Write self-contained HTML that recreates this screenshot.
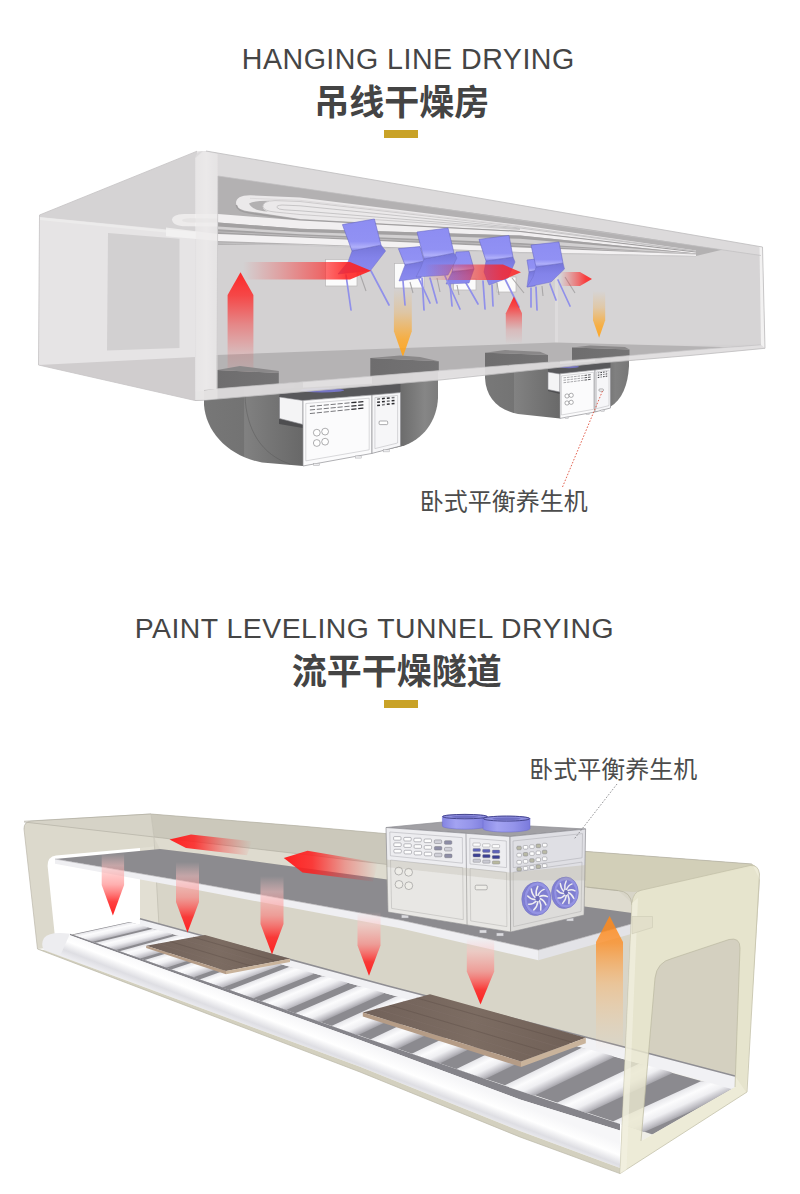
<!DOCTYPE html>
<html lang="zh"><head><meta charset="utf-8"><title>Drying rooms</title>
<style>
html,body{margin:0;padding:0;background:#fff}
body{width:800px;height:1194px;position:relative;overflow:hidden;font-family:"Liberation Sans",sans-serif}
.t{position:absolute;margin:0;color:transparent;white-space:nowrap;font-weight:normal;line-height:1;z-index:2}
</style></head><body>
<svg width="800" height="1194" viewBox="0 0 800 1194" style="position:absolute;left:0;top:0">
<defs>
<linearGradient id="g1" gradientUnits="userSpaceOnUse" x1="195" y1="0" x2="218" y2="0"><stop offset="0" stop-color="#e2e0e1"/><stop offset="0.5" stop-color="#eae8e9"/><stop offset="1" stop-color="#dedcdd"/></linearGradient>
<linearGradient id="g2" gradientUnits="userSpaceOnUse" x1="0" y1="272.3" x2="0" y2="388"><stop offset="0" stop-color="#ff2020" stop-opacity="0.95"/><stop offset="0.2" stop-color="#ff2020" stop-opacity="0.7789999999999999"/><stop offset="0.45" stop-color="#ff2020" stop-opacity="0.42"/><stop offset="0.7" stop-color="#ff2020" stop-opacity="0.13"/><stop offset="1" stop-color="#ff2020" stop-opacity="0"/></linearGradient>
<linearGradient id="g3" gradientUnits="userSpaceOnUse" x1="0" y1="288" x2="0" y2="356.9"><stop offset="0" stop-color="#ffa51e" stop-opacity="0"/><stop offset="0.35" stop-color="#ffa51e" stop-opacity="0.25"/><stop offset="0.75" stop-color="#ffa51e" stop-opacity="0.8"/><stop offset="1" stop-color="#ffa51e" stop-opacity="0.95"/></linearGradient>
<linearGradient id="g4" gradientUnits="userSpaceOnUse" x1="0" y1="291" x2="0" y2="337.8"><stop offset="0" stop-color="#ffa51e" stop-opacity="0"/><stop offset="0.35" stop-color="#ffa51e" stop-opacity="0.25"/><stop offset="0.75" stop-color="#ffa51e" stop-opacity="0.8"/><stop offset="1" stop-color="#ffa51e" stop-opacity="0.95"/></linearGradient>
<linearGradient id="g5" gradientUnits="userSpaceOnUse" x1="0" y1="261" x2="0" y2="281"><stop offset="0" stop-color="#7575d8"/><stop offset="0.45" stop-color="#8383ea"/><stop offset="1" stop-color="#8a8aee"/></linearGradient>
<linearGradient id="g6" gradientUnits="userSpaceOnUse" x1="0" y1="246.6" x2="0" y2="265"><stop offset="0" stop-color="#8d8df2"/><stop offset="0.7" stop-color="#9191f4"/><stop offset="0.88" stop-color="#b0b0fa"/><stop offset="1" stop-color="#8080e6"/></linearGradient>
<linearGradient id="g7" gradientUnits="userSpaceOnUse" x1="0" y1="269" x2="0" y2="284"><stop offset="0" stop-color="#7575d8"/><stop offset="0.45" stop-color="#8383ea"/><stop offset="1" stop-color="#8a8aee"/></linearGradient>
<linearGradient id="g8" gradientUnits="userSpaceOnUse" x1="0" y1="251.4" x2="0" y2="272"><stop offset="0" stop-color="#8d8df2"/><stop offset="0.7" stop-color="#9191f4"/><stop offset="0.88" stop-color="#b0b0fa"/><stop offset="1" stop-color="#8080e6"/></linearGradient>
<linearGradient id="g9" gradientUnits="userSpaceOnUse" x1="0" y1="270" x2="0" y2="287"><stop offset="0" stop-color="#7575d8"/><stop offset="0.45" stop-color="#8383ea"/><stop offset="1" stop-color="#8a8aee"/></linearGradient>
<linearGradient id="g10" gradientUnits="userSpaceOnUse" x1="0" y1="259" x2="0" y2="272"><stop offset="0" stop-color="#8d8df2"/><stop offset="0.7" stop-color="#9191f4"/><stop offset="0.88" stop-color="#b0b0fa"/><stop offset="1" stop-color="#8080e6"/></linearGradient>
<linearGradient id="g11" gradientUnits="userSpaceOnUse" x1="0" y1="245" x2="0" y2="274"><stop offset="0" stop-color="#7575d8"/><stop offset="0.45" stop-color="#8383ea"/><stop offset="1" stop-color="#8a8aee"/></linearGradient>
<linearGradient id="g12" gradientUnits="userSpaceOnUse" x1="0" y1="219" x2="0" y2="251"><stop offset="0" stop-color="#8d8df2"/><stop offset="0.7" stop-color="#9191f4"/><stop offset="0.88" stop-color="#b0b0fa"/><stop offset="1" stop-color="#8080e6"/></linearGradient>
<linearGradient id="g13" gradientUnits="userSpaceOnUse" x1="0" y1="253" x2="0" y2="277"><stop offset="0" stop-color="#7575d8"/><stop offset="0.45" stop-color="#8383ea"/><stop offset="1" stop-color="#8a8aee"/></linearGradient>
<linearGradient id="g14" gradientUnits="userSpaceOnUse" x1="0" y1="228" x2="0" y2="259"><stop offset="0" stop-color="#8d8df2"/><stop offset="0.7" stop-color="#9191f4"/><stop offset="0.88" stop-color="#b0b0fa"/><stop offset="1" stop-color="#8080e6"/></linearGradient>
<linearGradient id="g15" gradientUnits="userSpaceOnUse" x1="0" y1="257" x2="0" y2="285"><stop offset="0" stop-color="#7575d8"/><stop offset="0.45" stop-color="#8383ea"/><stop offset="1" stop-color="#8a8aee"/></linearGradient>
<linearGradient id="g16" gradientUnits="userSpaceOnUse" x1="0" y1="235.4" x2="0" y2="261"><stop offset="0" stop-color="#8d8df2"/><stop offset="0.7" stop-color="#9191f4"/><stop offset="0.88" stop-color="#b0b0fa"/><stop offset="1" stop-color="#8080e6"/></linearGradient>
<linearGradient id="g17" gradientUnits="userSpaceOnUse" x1="0" y1="263" x2="0" y2="287"><stop offset="0" stop-color="#7575d8"/><stop offset="0.45" stop-color="#8383ea"/><stop offset="1" stop-color="#8a8aee"/></linearGradient>
<linearGradient id="g18" gradientUnits="userSpaceOnUse" x1="0" y1="242" x2="0" y2="267"><stop offset="0" stop-color="#8d8df2"/><stop offset="0.7" stop-color="#9191f4"/><stop offset="0.88" stop-color="#b0b0fa"/><stop offset="1" stop-color="#8080e6"/></linearGradient>
<linearGradient id="g19" gradientUnits="userSpaceOnUse" x1="243" y1="0" x2="371" y2="0"><stop offset="0" stop-color="#ff2020" stop-opacity="0"/><stop offset="0.3" stop-color="#ff2020" stop-opacity="0.28"/><stop offset="0.6" stop-color="#ff2020" stop-opacity="0.58"/><stop offset="0.8" stop-color="#ff2020" stop-opacity="0.8556"/><stop offset="1" stop-color="#ff2020" stop-opacity="0.93"/></linearGradient>
<linearGradient id="g20" gradientUnits="userSpaceOnUse" x1="425" y1="0" x2="521" y2="0"><stop offset="0" stop-color="#ff2020" stop-opacity="0"/><stop offset="0.3" stop-color="#ff2020" stop-opacity="0.28"/><stop offset="0.6" stop-color="#ff2020" stop-opacity="0.58"/><stop offset="0.8" stop-color="#ff2020" stop-opacity="0.782"/><stop offset="1" stop-color="#ff2020" stop-opacity="0.85"/></linearGradient>
<linearGradient id="g21" gradientUnits="userSpaceOnUse" x1="560" y1="0" x2="592" y2="0"><stop offset="0" stop-color="#ff2020" stop-opacity="0"/><stop offset="0.3" stop-color="#ff2020" stop-opacity="0.28"/><stop offset="0.6" stop-color="#ff2020" stop-opacity="0.58"/><stop offset="0.8" stop-color="#ff2020" stop-opacity="0.8280000000000001"/><stop offset="1" stop-color="#ff2020" stop-opacity="0.9"/></linearGradient>
<linearGradient id="g22" gradientUnits="userSpaceOnUse" x1="0" y1="296.6" x2="0" y2="344"><stop offset="0" stop-color="#ff2020" stop-opacity="0.95"/><stop offset="0.2" stop-color="#ff2020" stop-opacity="0.7789999999999999"/><stop offset="0.45" stop-color="#ff2020" stop-opacity="0.42"/><stop offset="0.7" stop-color="#ff2020" stop-opacity="0.13"/><stop offset="1" stop-color="#ff2020" stop-opacity="0"/></linearGradient>
<linearGradient id="g23" gradientUnits="userSpaceOnUse" x1="217" y1="0" x2="278.8" y2="0"><stop offset="0" stop-color="#6e6d6e"/><stop offset="1" stop-color="#747374"/></linearGradient>
<linearGradient id="g24" gradientUnits="userSpaceOnUse" x1="370.3" y1="0" x2="438.8" y2="0"><stop offset="0" stop-color="#6e6d6e"/><stop offset="1" stop-color="#747374"/></linearGradient>
<linearGradient id="g25" gradientUnits="userSpaceOnUse" x1="485" y1="0" x2="548" y2="0"><stop offset="0" stop-color="#6e6d6e"/><stop offset="1" stop-color="#747374"/></linearGradient>
<linearGradient id="g26" gradientUnits="userSpaceOnUse" x1="572" y1="0" x2="629.5" y2="0"><stop offset="0" stop-color="#6e6d6e"/><stop offset="1" stop-color="#747374"/></linearGradient>
<linearGradient id="g27" gradientUnits="userSpaceOnUse" x1="204" y1="0" x2="303" y2="0"><stop offset="0" stop-color="#777777"/><stop offset="0.4" stop-color="#737373"/><stop offset="0.41" stop-color="#818181"/><stop offset="0.7" stop-color="#747474"/><stop offset="1" stop-color="#686868"/></linearGradient>
<linearGradient id="g28" gradientUnits="userSpaceOnUse" x1="372" y1="0" x2="438" y2="0"><stop offset="0" stop-color="#5e5e5e"/><stop offset="0.45" stop-color="#6d6d6d"/><stop offset="0.8" stop-color="#868686"/><stop offset="1" stop-color="#7c7c7c"/></linearGradient>
<linearGradient id="g29" gradientUnits="userSpaceOnUse" x1="485" y1="0" x2="560" y2="0"><stop offset="0" stop-color="#787878"/><stop offset="0.38" stop-color="#747474"/><stop offset="0.39" stop-color="#828282"/><stop offset="0.7" stop-color="#757575"/><stop offset="1" stop-color="#696969"/></linearGradient>
<linearGradient id="g30" gradientUnits="userSpaceOnUse" x1="595" y1="0" x2="629" y2="0"><stop offset="0" stop-color="#606060"/><stop offset="0.6" stop-color="#808080"/><stop offset="1" stop-color="#777777"/></linearGradient>
<linearGradient id="g31" gradientUnits="userSpaceOnUse" x1="560" y1="0" x2="587" y2="0"><stop offset="0" stop-color="#d2cfb8" stop-opacity="0"/><stop offset="1" stop-color="#d2cfb8" stop-opacity="1"/></linearGradient>
<clipPath id="cvclip"><polygon points="0,880 735,880 735,1087 641,1141 620,1174 610,1186 0,1000"/></clipPath>
<linearGradient id="g32" gradientUnits="userSpaceOnUse" x1="101.7" y1="928.6" x2="103.9" y2="938.4"><stop offset="0" stop-color="#e6e6ea"/><stop offset="0.3" stop-color="#fcfcfd"/><stop offset="0.6" stop-color="#efeff2"/><stop offset="0.85" stop-color="#cfced4"/><stop offset="1" stop-color="#bbbac0"/></linearGradient>
<linearGradient id="g33" gradientUnits="userSpaceOnUse" x1="124.4" y1="935.8" x2="127.0" y2="946.4"><stop offset="0" stop-color="#e6e6ea"/><stop offset="0.3" stop-color="#fcfcfd"/><stop offset="0.6" stop-color="#efeff2"/><stop offset="0.85" stop-color="#cfced4"/><stop offset="1" stop-color="#bbbac0"/></linearGradient>
<linearGradient id="g34" gradientUnits="userSpaceOnUse" x1="148.4" y1="943.3" x2="151.5" y2="954.7"><stop offset="0" stop-color="#e6e6ea"/><stop offset="0.3" stop-color="#fcfcfd"/><stop offset="0.6" stop-color="#efeff2"/><stop offset="0.85" stop-color="#cfced4"/><stop offset="1" stop-color="#bbbac0"/></linearGradient>
<linearGradient id="g35" gradientUnits="userSpaceOnUse" x1="173.8" y1="951.3" x2="177.5" y2="963.6"><stop offset="0" stop-color="#e6e6ea"/><stop offset="0.3" stop-color="#fcfcfd"/><stop offset="0.6" stop-color="#efeff2"/><stop offset="0.85" stop-color="#cfced4"/><stop offset="1" stop-color="#bbbac0"/></linearGradient>
<linearGradient id="g36" gradientUnits="userSpaceOnUse" x1="200.7" y1="959.8" x2="205.0" y2="972.9"><stop offset="0" stop-color="#e6e6ea"/><stop offset="0.3" stop-color="#fcfcfd"/><stop offset="0.6" stop-color="#efeff2"/><stop offset="0.85" stop-color="#cfced4"/><stop offset="1" stop-color="#bbbac0"/></linearGradient>
<linearGradient id="g37" gradientUnits="userSpaceOnUse" x1="229.3" y1="968.8" x2="234.3" y2="982.7"><stop offset="0" stop-color="#e6e6ea"/><stop offset="0.3" stop-color="#fcfcfd"/><stop offset="0.6" stop-color="#efeff2"/><stop offset="0.85" stop-color="#cfced4"/><stop offset="1" stop-color="#bbbac0"/></linearGradient>
<linearGradient id="g38" gradientUnits="userSpaceOnUse" x1="259.7" y1="978.4" x2="265.4" y2="993.2"><stop offset="0" stop-color="#e6e6ea"/><stop offset="0.3" stop-color="#fcfcfd"/><stop offset="0.6" stop-color="#efeff2"/><stop offset="0.85" stop-color="#cfced4"/><stop offset="1" stop-color="#bbbac0"/></linearGradient>
<linearGradient id="g39" gradientUnits="userSpaceOnUse" x1="292.1" y1="988.6" x2="298.6" y2="1004.2"><stop offset="0" stop-color="#e6e6ea"/><stop offset="0.3" stop-color="#fcfcfd"/><stop offset="0.6" stop-color="#efeff2"/><stop offset="0.85" stop-color="#cfced4"/><stop offset="1" stop-color="#bbbac0"/></linearGradient>
<linearGradient id="g40" gradientUnits="userSpaceOnUse" x1="326.8" y1="999.5" x2="334.0" y2="1016.0"><stop offset="0" stop-color="#e6e6ea"/><stop offset="0.3" stop-color="#fcfcfd"/><stop offset="0.6" stop-color="#efeff2"/><stop offset="0.85" stop-color="#c4c3c9"/><stop offset="1" stop-color="#a7a6ac"/></linearGradient>
<linearGradient id="g41" gradientUnits="userSpaceOnUse" x1="363.9" y1="1011.1" x2="371.8" y2="1028.4"><stop offset="0" stop-color="#e6e6ea"/><stop offset="0.3" stop-color="#fcfcfd"/><stop offset="0.6" stop-color="#efeff2"/><stop offset="0.85" stop-color="#c4c3c9"/><stop offset="1" stop-color="#a7a6ac"/></linearGradient>
<linearGradient id="g42" gradientUnits="userSpaceOnUse" x1="403.8" y1="1023.6" x2="412.3" y2="1041.5"><stop offset="0" stop-color="#e6e6ea"/><stop offset="0.3" stop-color="#fcfcfd"/><stop offset="0.6" stop-color="#efeff2"/><stop offset="0.85" stop-color="#c4c3c9"/><stop offset="1" stop-color="#a7a6ac"/></linearGradient>
<linearGradient id="g43" gradientUnits="userSpaceOnUse" x1="446.8" y1="1036.8" x2="455.8" y2="1055.5"><stop offset="0" stop-color="#e6e6ea"/><stop offset="0.3" stop-color="#fcfcfd"/><stop offset="0.6" stop-color="#efeff2"/><stop offset="0.85" stop-color="#c4c3c9"/><stop offset="1" stop-color="#a7a6ac"/></linearGradient>
<linearGradient id="g44" gradientUnits="userSpaceOnUse" x1="493.1" y1="1051.1" x2="502.6" y2="1070.6"><stop offset="0" stop-color="#e6e6ea"/><stop offset="0.3" stop-color="#fcfcfd"/><stop offset="0.6" stop-color="#efeff2"/><stop offset="0.85" stop-color="#c4c3c9"/><stop offset="1" stop-color="#a7a6ac"/></linearGradient>
<linearGradient id="g45" gradientUnits="userSpaceOnUse" x1="543.4" y1="1066.6" x2="553.1" y2="1086.6"><stop offset="0" stop-color="#e6e6ea"/><stop offset="0.3" stop-color="#fcfcfd"/><stop offset="0.6" stop-color="#efeff2"/><stop offset="0.85" stop-color="#c4c3c9"/><stop offset="1" stop-color="#a7a6ac"/></linearGradient>
<linearGradient id="g46" gradientUnits="userSpaceOnUse" x1="597.9" y1="1083.2" x2="607.7" y2="1103.7"><stop offset="0" stop-color="#e6e6ea"/><stop offset="0.3" stop-color="#fcfcfd"/><stop offset="0.6" stop-color="#efeff2"/><stop offset="0.85" stop-color="#c4c3c9"/><stop offset="1" stop-color="#a7a6ac"/></linearGradient>
<linearGradient id="g47" gradientUnits="userSpaceOnUse" x1="657.5" y1="1101.1" x2="667.1" y2="1122.2"><stop offset="0" stop-color="#e6e6ea"/><stop offset="0.3" stop-color="#fcfcfd"/><stop offset="0.6" stop-color="#efeff2"/><stop offset="0.85" stop-color="#c4c3c9"/><stop offset="1" stop-color="#a7a6ac"/></linearGradient>
<linearGradient id="g48" gradientUnits="userSpaceOnUse" x1="300" y1="1019" x2="288" y2="1050"><stop offset="0" stop-color="#f6f6f8"/><stop offset="0.35" stop-color="#ffffff"/><stop offset="0.62" stop-color="#dedee3"/><stop offset="0.8" stop-color="#ececf0"/><stop offset="1" stop-color="#f4f4f6"/></linearGradient>
<linearGradient id="g49" gradientUnits="userSpaceOnUse" x1="146.2" y1="945.8" x2="290" y2="958.8"><stop offset="0" stop-color="#72625a"/><stop offset="0.5" stop-color="#7c6c62"/><stop offset="1" stop-color="#6f5f56"/></linearGradient>
<linearGradient id="g50" gradientUnits="userSpaceOnUse" x1="362.8" y1="1012.5" x2="585.8" y2="1037.7"><stop offset="0" stop-color="#72625a"/><stop offset="0.5" stop-color="#7c6c62"/><stop offset="1" stop-color="#6f5f56"/></linearGradient>
<linearGradient id="g51" gradientUnits="userSpaceOnUse" x1="442.4" y1="0" x2="487.4" y2="0"><stop offset="0" stop-color="#8484e2"/><stop offset="0.3" stop-color="#a3a3f2"/><stop offset="0.65" stop-color="#9494ea"/><stop offset="1" stop-color="#7a7adc"/></linearGradient>
<linearGradient id="g52" gradientUnits="userSpaceOnUse" x1="483" y1="0" x2="530" y2="0"><stop offset="0" stop-color="#8484e2"/><stop offset="0.3" stop-color="#a3a3f2"/><stop offset="0.65" stop-color="#9494ea"/><stop offset="1" stop-color="#7a7adc"/></linearGradient>
<linearGradient id="g53" gradientUnits="userSpaceOnUse" x1="0" y1="853" x2="0" y2="915.5"><stop offset="0" stop-color="#ffc8c8" stop-opacity="0.0"/><stop offset="0.2" stop-color="#ffc0c0" stop-opacity="0.5"/><stop offset="0.5" stop-color="#ff7070" stop-opacity="0.55"/><stop offset="0.78" stop-color="#ff1e1e" stop-opacity="0.85"/><stop offset="1" stop-color="#ff1e1e" stop-opacity="0.98"/></linearGradient>
<linearGradient id="g54" gradientUnits="userSpaceOnUse" x1="0" y1="862" x2="0" y2="932.5"><stop offset="0" stop-color="#ffc8c8" stop-opacity="0.0"/><stop offset="0.2" stop-color="#ffc0c0" stop-opacity="0.5"/><stop offset="0.5" stop-color="#ff7070" stop-opacity="0.55"/><stop offset="0.78" stop-color="#ff1e1e" stop-opacity="0.85"/><stop offset="1" stop-color="#ff1e1e" stop-opacity="0.98"/></linearGradient>
<linearGradient id="g55" gradientUnits="userSpaceOnUse" x1="0" y1="876" x2="0" y2="954.5"><stop offset="0" stop-color="#ffc8c8" stop-opacity="0.0"/><stop offset="0.2" stop-color="#ffc0c0" stop-opacity="0.5"/><stop offset="0.5" stop-color="#ff7070" stop-opacity="0.55"/><stop offset="0.78" stop-color="#ff1e1e" stop-opacity="0.85"/><stop offset="1" stop-color="#ff1e1e" stop-opacity="0.98"/></linearGradient>
<linearGradient id="g56" gradientUnits="userSpaceOnUse" x1="0" y1="912" x2="0" y2="975.8"><stop offset="0" stop-color="#ffc8c8" stop-opacity="0.0"/><stop offset="0.2" stop-color="#ffc0c0" stop-opacity="0.5"/><stop offset="0.5" stop-color="#ff7070" stop-opacity="0.55"/><stop offset="0.78" stop-color="#ff1e1e" stop-opacity="0.85"/><stop offset="1" stop-color="#ff1e1e" stop-opacity="0.98"/></linearGradient>
<linearGradient id="g57" gradientUnits="userSpaceOnUse" x1="0" y1="938" x2="0" y2="1004.5"><stop offset="0" stop-color="#ffc8c8" stop-opacity="0.0"/><stop offset="0.2" stop-color="#ffc0c0" stop-opacity="0.5"/><stop offset="0.5" stop-color="#ff7070" stop-opacity="0.55"/><stop offset="0.78" stop-color="#ff1e1e" stop-opacity="0.85"/><stop offset="1" stop-color="#ff1e1e" stop-opacity="0.98"/></linearGradient>
<linearGradient id="g58" gradientUnits="userSpaceOnUse" x1="169.5" y1="0" x2="252" y2="0"><stop offset="0" stop-color="#ff1e1e" stop-opacity="0.98"/><stop offset="0.3" stop-color="#ff1e1e" stop-opacity="0.85"/><stop offset="0.65" stop-color="#ff1e1e" stop-opacity="0.35"/><stop offset="1" stop-color="#ff1e1e" stop-opacity="0"/></linearGradient>
<linearGradient id="g59" gradientUnits="userSpaceOnUse" x1="283.8" y1="0" x2="378" y2="0"><stop offset="0" stop-color="#ff1e1e" stop-opacity="0.98"/><stop offset="0.3" stop-color="#ff1e1e" stop-opacity="0.85"/><stop offset="0.65" stop-color="#ff1e1e" stop-opacity="0.35"/><stop offset="1" stop-color="#ff1e1e" stop-opacity="0"/></linearGradient>
<linearGradient id="g60" gradientUnits="userSpaceOnUse" x1="0" y1="916" x2="0" y2="1052"><stop offset="0" stop-color="#ff8a1c" stop-opacity="0.9"/><stop offset="0.2" stop-color="#ff8a1c" stop-opacity="0.75"/><stop offset="0.5" stop-color="#ffb060" stop-opacity="0.45"/><stop offset="1" stop-color="#ffd0a0" stop-opacity="0"/></linearGradient>
</defs>
<g id="d1">
<polygon points="39.5,215 197,151.2 206,151 206,400 195,400.5 38.5,365" fill="#e6e4e5" />
<polygon points="39.5,215.3 197,151.4 197,232 167.5,229.5 39.5,217" fill="#d5d3d4" />
<polyline points="39.5,218.6 166,231.2" fill="none" stroke="#ecebeb" stroke-width="2.6" />
<polygon points="108,233 179.5,238.8 179.5,348 107,350.5" fill="#d2d0d1" />
<polygon points="38.5,365 215,356 206,400 195,400.5" fill="#d0cdce" />
<polyline points="38.5,365 39.5,215 197,151.2" fill="none" stroke="#c4c2c3" stroke-width="0.8" />
<polyline points="38.5,365 195,400.5" fill="none" stroke="#c9c7c8" stroke-width="0.8" />
<path d="M195,160 Q195,151.5 203,151 L206,151 L762.5,247 L765,348 L206,400 L195,400.5 Z" fill="#dcdadb" />
<polygon points="195,158 203,151 218,153 218,398.8 206,400 195,400.5" fill="url(#g1)" />
<polygon points="218,176 761,255.5 761,344.8 216.5,388.8" fill="#d3d1d2" />
<polygon points="556,225.5 761,255.5 761,344.8 556,345" fill="#d6d4d5" />
<polygon points="555,262 558,262 558,344 555,344" fill="#dddbdc" />
<polygon points="218,176 390,201 590,229.5 722,249.8 696,256 520,252.5 300,244.5 218,245" fill="#b3b1b2" />
<path d="M696,250.5 L520,225 L300,197.5 L250,195.2 Q236,195.5 236,203 Q236.5,210 250,211.5 L300,219 L520,231 L696,252 Z" fill="#ebe9ea" />
<path d="M236.3,205 Q237,211.5 250,213 L300,220.3 L520,231.8 L696,252.3" fill="none" stroke="#9f9d9e" stroke-width="1.6"/>
<path d="M249,203.5 Q255,200.5 270,200.8 Q262,203 263,207.5 Q263.5,210 268,211.5 Q252,210.5 249,203.5 Z" fill="#b3b1b2" />
<path d="M696,251 L520,226.8 L300,201.5 L275,200.6 Q262.5,201 263,206.5 Q263.5,211 275,212 L300,214.5 L520,229.5" fill="none" stroke="#c9c7c8" stroke-width="0.9"/>
<path d="M696,251.3 L520,228 L300,205.8 L282,205 Q276,205.5 277,207.500 Q278,209.5 284,209.8 L300,210.8 L520,228.8" fill="none" stroke="#bdbbbc" stroke-width="0.8"/>
<path d="M250,198.3 L300,200.3 L520,226" fill="none" stroke="#d5d3d4" stroke-width="0.7"/>
<polygon points="218,213.9 300,220.5 520,232 696,252.5 696,253.5 520,235.5 300,228.8 218,222.6" fill="#f1eff0" />
<polygon points="218,222.6 300,228.8 520,235.5 696,253.5 696,254.5 520,247.5 300,237.5 218,234" fill="#a3a1a2" />
<polygon points="218,226.6 300,232 520,238.8 696,253.8 696,254.2 520,243 300,234.2 218,229.3" fill="#d2d0d1" />
<polyline points="218,231.8 300,236 520,245.2 696,254.4" fill="none" stroke="#c4c2c3" stroke-width="0.8" />
<polygon points="218,234 300,237.5 520,247.5 696,254.5 696,256 520,252 300,243.7 218,241" fill="#f3f1f2" />
<polyline points="218,243 300,245.5 520,253 696,256.5" fill="none" stroke="#c9c7c8" stroke-width="0.7" />
<path d="M218,213.9 L184,213.9 Q172,214.5 172,219.5 Q172.500,226 186,226.3 L218,226.6 Z" fill="#f6f5f5" opacity="0.7"/>
<path d="M218,218.5 L190,218.3 Q182,218.6 182,220.3 Q182.500,222.3 190,222.4 L218,222.6 Z" fill="#dedcdd" opacity="0.55"/>
<polygon points="166,227.6 218,234 218,241 166,236.2" fill="#f6f5f5" opacity="0.72"/>
<polygon points="216.5,355 390,348.5 556,342.5 740,347.4 761,344.8 690,350.2 600,358.2 440,370.6 216.5,388.8" fill="#b5b3b4" />
<rect x="325.6" y="259.4" width="31.4" height="26.6" fill="#fbfbfb" stroke="#b9b7b8" stroke-width="0.7"/>
<rect x="394.4" y="263.4" width="29.6" height="24.6" fill="#fbfbfb" stroke="#b9b7b8" stroke-width="0.7"/>
<rect x="453.6" y="279" width="22.4" height="11" fill="#fbfbfb" stroke="#b9b7b8" stroke-width="0.7"/>
<rect x="497" y="277" width="19" height="15" fill="#fbfbfb" stroke="#b9b7b8" stroke-width="0.7"/>
<polygon points="240.5,272.3 253.4,295 253.4,388 227.6,388 227.6,295" fill="url(#g2)" />
<polygon points="393.9,288 411.8,288 411.8,331.3 402.9,356.9 393.9,331.3" fill="url(#g3)" />
<polygon points="593,291 605.2,291 605.2,320.3 599.1,337.8 593,320.3" fill="url(#g4)" />
<line x1="410" y1="282" x2="413" y2="293" stroke="#a9a7a8" stroke-width="1.1" />
<line x1="403" y1="281" x2="405" y2="305" stroke="#9090ea" stroke-width="1.7" stroke-linecap="round"/>
<line x1="419" y1="279" x2="430" y2="303" stroke="#9090ea" stroke-width="1.7" stroke-linecap="round"/>
<polygon points="405,265 424,261 421,278 399,281" fill="url(#g5)" stroke="#6f6fc9" stroke-width="0.5" stroke-linejoin="round"/>
<polygon points="398.4,248.6 420,246.6 424,261 405,265" fill="url(#g6)" stroke="#6a6ac6" stroke-width="0.6" stroke-linejoin="round"/>
<line x1="457" y1="285" x2="459" y2="295" stroke="#a9a7a8" stroke-width="1.1" />
<line x1="450" y1="284" x2="452" y2="306" stroke="#9090ea" stroke-width="1.7" stroke-linecap="round"/>
<line x1="466" y1="283" x2="478" y2="304" stroke="#9090ea" stroke-width="1.7" stroke-linecap="round"/>
<polygon points="452,272 474,269 469,283 446,284" fill="url(#g7)" stroke="#6f6fc9" stroke-width="0.5" stroke-linejoin="round"/>
<polygon points="456,252 469,251.4 474,269 452,272" fill="url(#g8)" stroke="#6a6ac6" stroke-width="0.6" stroke-linejoin="round"/>
<polygon points="529,272 537,270 535,286 527,287" fill="url(#g9)" stroke="#6f6fc9" stroke-width="0.5" stroke-linejoin="round"/>
<polygon points="527,260 536,259 537,270 529,272" fill="url(#g10)" stroke="#6a6ac6" stroke-width="0.6" stroke-linejoin="round"/>
<line x1="360" y1="274" x2="366" y2="291" stroke="#a9a7a8" stroke-width="1.1" />
<line x1="346" y1="275" x2="351" y2="310" stroke="#9090ea" stroke-width="1.7" stroke-linecap="round"/>
<line x1="371" y1="271" x2="389" y2="305" stroke="#9090ea" stroke-width="1.7" stroke-linecap="round"/>
<polygon points="352,251 381,245 385.6,251 370.4,270.6 338,274 348,262" fill="url(#g11)" stroke="#6f6fc9" stroke-width="0.5" stroke-linejoin="round"/>
<polygon points="342.4,224.6 374.4,219 381,245 352,251" fill="url(#g12)" stroke="#6a6ac6" stroke-width="0.6" stroke-linejoin="round"/>
<line x1="437" y1="278" x2="440" y2="292" stroke="#a9a7a8" stroke-width="1.1" />
<line x1="422" y1="278" x2="424" y2="310" stroke="#9090ea" stroke-width="1.7" stroke-linecap="round"/>
<line x1="445" y1="276" x2="460" y2="309" stroke="#9090ea" stroke-width="1.7" stroke-linecap="round"/>
<line x1="430" y1="278" x2="437" y2="303" stroke="#9090ea" stroke-width="1.7" stroke-linecap="round"/>
<polygon points="424,259 454,253 457,258 448,275 416,277 421,267" fill="url(#g13)" stroke="#6f6fc9" stroke-width="0.5" stroke-linejoin="round"/>
<polygon points="417,232 448,228 454,253 424,259" fill="url(#g14)" stroke="#6a6ac6" stroke-width="0.6" stroke-linejoin="round"/>
<line x1="497" y1="283" x2="499" y2="295" stroke="#a9a7a8" stroke-width="1.1" />
<line x1="512" y1="278" x2="524" y2="293" stroke="#a9a7a8" stroke-width="1.1" />
<line x1="483" y1="281" x2="485" y2="309" stroke="#9090ea" stroke-width="1.7" stroke-linecap="round"/>
<line x1="505" y1="279" x2="519" y2="307" stroke="#9090ea" stroke-width="1.7" stroke-linecap="round"/>
<line x1="492" y1="285" x2="493" y2="306" stroke="#9090ea" stroke-width="1.7" stroke-linecap="round"/>
<polygon points="486,261 513,257 515,262 508,278 489,285 484,272" fill="url(#g15)" stroke="#6f6fc9" stroke-width="0.5" stroke-linejoin="round"/>
<polygon points="479,239.4 509,235.4 513,257 486,261" fill="url(#g16)" stroke="#6a6ac6" stroke-width="0.6" stroke-linejoin="round"/>
<line x1="542" y1="286" x2="543" y2="296" stroke="#a9a7a8" stroke-width="1.1" />
<line x1="565" y1="277" x2="575" y2="293" stroke="#a9a7a8" stroke-width="1.1" />
<line x1="531" y1="288" x2="531" y2="307" stroke="#9090ea" stroke-width="1.7" stroke-linecap="round"/>
<line x1="536" y1="287" x2="537" y2="310" stroke="#9090ea" stroke-width="1.7" stroke-linecap="round"/>
<line x1="550" y1="284" x2="556" y2="300" stroke="#9090ea" stroke-width="1.7" stroke-linecap="round"/>
<line x1="558" y1="280" x2="570" y2="306" stroke="#9090ea" stroke-width="1.7" stroke-linecap="round"/>
<polygon points="536,267 563,263 564.5,269 551,282 527,287 533,277" fill="url(#g17)" stroke="#6f6fc9" stroke-width="0.5" stroke-linejoin="round"/>
<polygon points="531,245 559,242 563,263 536,267" fill="url(#g18)" stroke="#6a6ac6" stroke-width="0.6" stroke-linejoin="round"/>
<polygon points="243,262 350,262 371,270.7 350,279.4 243,279.4" fill="url(#g19)" />
<polygon points="425,264.6 503,264.6 521,272.3 503,280 425,280" fill="url(#g20)" />
<polygon points="560,272 580,272 592,279 580,286 560,286" fill="url(#g21)" />
<polygon points="513.9,296.6 522,313.3 522,344 505.8,344 505.8,313.3" fill="url(#g22)" />
<polygon points="217,370 278.8,373 278.8,384.7 217,389.8" fill="url(#g23)" />
<polygon points="217,370 240,366 278.8,371 278.8,373" fill="#8a8889" />
<polygon points="370.3,358 438.8,361.3 438.8,371.7 370.3,377.3" fill="url(#g24)" />
<polygon points="370.3,358 400,355.5 420,357 438.8,361.3" fill="#8a8889" />
<polygon points="485,352.7 548,355 548,363.2 485,368.1" fill="url(#g25)" />
<polygon points="485,352.7 505,350 540,351.8 548,355" fill="#8a8889" />
<polygon points="572,347.5 629.5,349.5 629.5,356.6 572,361.4" fill="url(#g26)" />
<polygon points="572,347.5 590,345.5 625,347 629.5,349.5" fill="#8a8889" />
<path d="M204,390 L204,405 C206,432 228,456 262,462.5 L303,466 L303,382 Z" fill="url(#g27)" />
<path d="M245,395 C246,430 262,455 290,464" fill="none" stroke="#595959" stroke-width="0.8" opacity="0.6"/>
<path d="M372,376.2 L438,370.8 L438,398 C437,420 424,440 401,446.5 L372,453 Z" fill="url(#g28)" />
<polygon points="279.5,397 303,400.5 372,395 400.5,392.5 400.5,382 279.5,389" fill="#58585b" />
<polygon points="279,396 303,400 303,428 279,424" fill="#4e4e50" />
<polygon points="279.5,397 303,400.5 303,424.5 279.5,418.5" fill="#f4f4f5" stroke="#8f8f93" stroke-width="0.6"/>
<polygon points="303,400.5 372,395 372,453.4 303,466" fill="#fbfbfc" stroke="#8f8f93" stroke-width="0.7" stroke-linejoin="round"/>
<polygon points="372,395 400.5,392.5 400.5,446 372,453.4" fill="#f6f6f8" stroke="#8f8f93" stroke-width="0.7" stroke-linejoin="round"/>
<polygon points="305.8,403.5 369.2,398.2 369.2,449.8 305.8,460.9" fill="none" stroke="#b5b5b9" stroke-width="0.5"/>
<polygon points="374.9,397.6 397.6,395.4 397.6,443 374.9,448.6" fill="none" stroke="#b5b5b9" stroke-width="0.5"/>
<line x1="309.9" y1="406.429" x2="315.075" y2="405.963" stroke="#77777b" stroke-width="1" />
<line x1="316.8" y1="405.808" x2="321.975" y2="405.342" stroke="#77777b" stroke-width="1" />
<line x1="323.7" y1="405.187" x2="328.875" y2="404.721" stroke="#77777b" stroke-width="1" />
<line x1="330.6" y1="404.566" x2="335.775" y2="404.1" stroke="#77777b" stroke-width="1" />
<line x1="337.5" y1="403.945" x2="342.675" y2="403.479" stroke="#77777b" stroke-width="1" />
<line x1="344.4" y1="403.324" x2="349.575" y2="402.858" stroke="#77777b" stroke-width="1" />
<line x1="351.3" y1="402.703" x2="356.475" y2="402.237" stroke="#2c2c30" stroke-width="1.3" />
<line x1="358.2" y1="402.082" x2="363.375" y2="401.616" stroke="#2c2c30" stroke-width="1.3" />
<line x1="309.9" y1="409.992" x2="315.075" y2="409.497" stroke="#77777b" stroke-width="1" />
<line x1="316.8" y1="409.332" x2="321.975" y2="408.837" stroke="#77777b" stroke-width="1" />
<line x1="323.7" y1="408.672" x2="328.875" y2="408.177" stroke="#77777b" stroke-width="1" />
<line x1="330.6" y1="408.012" x2="335.775" y2="407.517" stroke="#77777b" stroke-width="1" />
<line x1="337.5" y1="407.352" x2="342.675" y2="406.857" stroke="#77777b" stroke-width="1" />
<line x1="344.4" y1="406.692" x2="349.575" y2="406.197" stroke="#77777b" stroke-width="1" />
<line x1="351.3" y1="406.032" x2="356.475" y2="405.537" stroke="#2c2c30" stroke-width="1.3" />
<line x1="358.2" y1="405.372" x2="363.375" y2="404.877" stroke="#2c2c30" stroke-width="1.3" />
<line x1="309.9" y1="413.556" x2="315.075" y2="413.032" stroke="#77777b" stroke-width="1" />
<line x1="316.8" y1="412.857" x2="321.975" y2="412.332" stroke="#77777b" stroke-width="1" />
<line x1="323.7" y1="412.158" x2="328.875" y2="411.633" stroke="#77777b" stroke-width="1" />
<line x1="330.6" y1="411.459" x2="335.775" y2="410.934" stroke="#77777b" stroke-width="1" />
<line x1="337.5" y1="410.76" x2="342.675" y2="410.235" stroke="#77777b" stroke-width="1" />
<line x1="344.4" y1="410.06" x2="349.575" y2="409.536" stroke="#77777b" stroke-width="1" />
<line x1="351.3" y1="409.361" x2="356.475" y2="408.837" stroke="#2c2c30" stroke-width="1.3" />
<line x1="358.2" y1="408.662" x2="363.375" y2="408.138" stroke="#2c2c30" stroke-width="1.3" />
<circle cx="316.8" cy="432.7" r="3.4" fill="#fff" stroke="#77777b" stroke-width="0.6"/>
<circle cx="325.1" cy="431.6" r="3.4" fill="#fff" stroke="#77777b" stroke-width="0.6"/>
<circle cx="316.8" cy="443.0" r="3.4" fill="#fff" stroke="#77777b" stroke-width="0.6"/>
<circle cx="325.1" cy="441.7" r="3.4" fill="#fff" stroke="#77777b" stroke-width="0.6"/>
<line x1="377.13" y1="399.151" x2="379.98" y2="398.862" stroke="#77777b" stroke-width="1.5" />
<line x1="381.975" y1="398.66" x2="384.825" y2="398.371" stroke="#2c2c30" stroke-width="1.5" />
<line x1="386.82" y1="398.168" x2="389.67" y2="397.879" stroke="#2c2c30" stroke-width="1.5" />
<line x1="391.665" y1="397.677" x2="394.515" y2="397.387" stroke="#77777b" stroke-width="1.5" />
<line x1="377.13" y1="402.315" x2="379.98" y2="401.999" stroke="#2c2c30" stroke-width="1.5" />
<line x1="381.975" y1="401.777" x2="384.825" y2="401.461" stroke="#2c2c30" stroke-width="1.5" />
<line x1="386.82" y1="401.24" x2="389.67" y2="400.924" stroke="#77777b" stroke-width="1.5" />
<line x1="391.665" y1="400.703" x2="394.515" y2="400.386" stroke="#2c2c30" stroke-width="1.5" />
<line x1="377.13" y1="405.478" x2="379.98" y2="405.135" stroke="#2c2c30" stroke-width="1.5" />
<line x1="381.975" y1="404.895" x2="384.825" y2="404.552" stroke="#77777b" stroke-width="1.5" />
<line x1="386.82" y1="404.312" x2="389.67" y2="403.969" stroke="#2c2c30" stroke-width="1.5" />
<line x1="391.665" y1="403.729" x2="394.515" y2="403.386" stroke="#2c2c30" stroke-width="1.5" />
<rect x="379.1" y="421.0" width="8.6" height="3.6" rx="1" fill="#fff" stroke="#77777b" stroke-width="0.6"/>
<rect x="313.8" y="463.5" width="6.0" height="2.2" fill="#ececee" stroke="#a0a0a4" stroke-width="0.4"/>
<rect x="355.2" y="455.9" width="6.0" height="2.2" fill="#ececee" stroke="#a0a0a4" stroke-width="0.4"/>
<rect x="383.2" y="449.7" width="6.0" height="2.2" fill="#ececee" stroke="#a0a0a4" stroke-width="0.4"/>
<ellipse cx="322" cy="390.3" rx="22" ry="2.2" fill="#7f7de8" opacity="0.75"/>
<path d="M485,367.2 L485,378 C486,398 498,410 518,414 L560,418.4 L560,361.3 Z" fill="url(#g29)" />
<path d="M595,358.6 L629,356 L629,366 C628,385 622,400 610,407 L595,412 Z" fill="url(#g30)" />
<polygon points="548,372 560,374 595,370 610.5,368 610.5,360 548,365" fill="#58585b" />
<polygon points="548,371 560,373.8 560,394 548,391" fill="#4e4e50" />
<polygon points="548,372 560,374 560,392 548,389.5" fill="#f4f4f5" stroke="#8f8f93" stroke-width="0.6"/>
<polygon points="560,373.8 595,370 595,412 560,418.4" fill="#fbfbfc" stroke="#8f8f93" stroke-width="0.7" stroke-linejoin="round"/>
<polygon points="595,370 610.5,368 610.5,408 595,412" fill="#f6f6f8" stroke="#8f8f93" stroke-width="0.7" stroke-linejoin="round"/>
<polygon points="561.4,375.9 593.6,372.3 593.6,409.3 561.4,415" fill="none" stroke="#b5b5b9" stroke-width="0.5"/>
<polygon points="596.5,371.9 609,370.2 609,405.6 596.5,408.7" fill="none" stroke="#b5b5b9" stroke-width="0.5"/>
<line x1="563.5" y1="377.854" x2="566.125" y2="377.549" stroke="#77777b" stroke-width="0.62" />
<line x1="567" y1="377.448" x2="569.625" y2="377.144" stroke="#77777b" stroke-width="0.62" />
<line x1="570.5" y1="377.042" x2="573.125" y2="376.738" stroke="#77777b" stroke-width="0.62" />
<line x1="574" y1="376.636" x2="576.625" y2="376.332" stroke="#77777b" stroke-width="0.62" />
<line x1="577.5" y1="376.23" x2="580.125" y2="375.925" stroke="#77777b" stroke-width="0.62" />
<line x1="581" y1="375.824" x2="583.625" y2="375.519" stroke="#77777b" stroke-width="0.62" />
<line x1="584.5" y1="375.418" x2="587.125" y2="375.114" stroke="#2c2c30" stroke-width="0.806" />
<line x1="588" y1="375.012" x2="590.625" y2="374.708" stroke="#2c2c30" stroke-width="0.806" />
<line x1="563.5" y1="380.293" x2="566.125" y2="379.977" stroke="#77777b" stroke-width="0.62" />
<line x1="567" y1="379.872" x2="569.625" y2="379.557" stroke="#77777b" stroke-width="0.62" />
<line x1="570.5" y1="379.452" x2="573.125" y2="379.137" stroke="#77777b" stroke-width="0.62" />
<line x1="574" y1="379.032" x2="576.625" y2="378.717" stroke="#77777b" stroke-width="0.62" />
<line x1="577.5" y1="378.611" x2="580.125" y2="378.296" stroke="#77777b" stroke-width="0.62" />
<line x1="581" y1="378.191" x2="583.625" y2="377.876" stroke="#77777b" stroke-width="0.62" />
<line x1="584.5" y1="377.771" x2="587.125" y2="377.456" stroke="#2c2c30" stroke-width="0.806" />
<line x1="588" y1="377.351" x2="590.625" y2="377.035" stroke="#2c2c30" stroke-width="0.806" />
<line x1="563.5" y1="382.731" x2="566.125" y2="382.405" stroke="#77777b" stroke-width="0.62" />
<line x1="567" y1="382.297" x2="569.625" y2="381.971" stroke="#77777b" stroke-width="0.62" />
<line x1="570.5" y1="381.862" x2="573.125" y2="381.536" stroke="#77777b" stroke-width="0.62" />
<line x1="574" y1="381.428" x2="576.625" y2="381.102" stroke="#77777b" stroke-width="0.62" />
<line x1="577.5" y1="380.993" x2="580.125" y2="380.667" stroke="#77777b" stroke-width="0.62" />
<line x1="581" y1="380.558" x2="583.625" y2="380.232" stroke="#77777b" stroke-width="0.62" />
<line x1="584.5" y1="380.124" x2="587.125" y2="379.798" stroke="#2c2c30" stroke-width="0.806" />
<line x1="588" y1="379.689" x2="590.625" y2="379.363" stroke="#2c2c30" stroke-width="0.806" />
<circle cx="567.0" cy="396.0" r="2.1" fill="#fff" stroke="#77777b" stroke-width="0.6"/>
<circle cx="571.2" cy="395.3" r="2.1" fill="#fff" stroke="#77777b" stroke-width="0.6"/>
<circle cx="567.0" cy="403.0" r="2.1" fill="#fff" stroke="#77777b" stroke-width="0.6"/>
<circle cx="571.2" cy="402.3" r="2.1" fill="#fff" stroke="#77777b" stroke-width="0.6"/>
<line x1="597.79" y1="372.971" x2="599.34" y2="372.755" stroke="#77777b" stroke-width="0.93" />
<line x1="600.425" y1="372.604" x2="601.975" y2="372.388" stroke="#2c2c30" stroke-width="0.93" />
<line x1="603.06" y1="372.237" x2="604.61" y2="372.021" stroke="#2c2c30" stroke-width="0.93" />
<line x1="605.695" y1="371.87" x2="607.245" y2="371.654" stroke="#77777b" stroke-width="0.93" />
<line x1="597.79" y1="375.261" x2="599.34" y2="375.034" stroke="#2c2c30" stroke-width="0.93" />
<line x1="600.425" y1="374.875" x2="601.975" y2="374.649" stroke="#2c2c30" stroke-width="0.93" />
<line x1="603.06" y1="374.49" x2="604.61" y2="374.263" stroke="#77777b" stroke-width="0.93" />
<line x1="605.695" y1="374.104" x2="607.245" y2="373.877" stroke="#2c2c30" stroke-width="0.93" />
<line x1="597.79" y1="377.552" x2="599.34" y2="377.314" stroke="#2c2c30" stroke-width="0.93" />
<line x1="600.425" y1="377.147" x2="601.975" y2="376.909" stroke="#77777b" stroke-width="0.93" />
<line x1="603.06" y1="376.742" x2="604.61" y2="376.504" stroke="#2c2c30" stroke-width="0.93" />
<line x1="605.695" y1="376.338" x2="607.245" y2="376.1" stroke="#2c2c30" stroke-width="0.93" />
<rect x="598.9" y="389.0" width="4.6" height="2.2" rx="1" fill="#fff" stroke="#77777b" stroke-width="0.6"/>
<rect x="565.1" y="417.1" width="3.7" height="1.4" fill="#ececee" stroke="#a0a0a4" stroke-width="0.4"/>
<rect x="586.1" y="413.3" width="3.7" height="1.4" fill="#ececee" stroke="#a0a0a4" stroke-width="0.4"/>
<rect x="600.9" y="410.0" width="3.7" height="1.4" fill="#ececee" stroke="#a0a0a4" stroke-width="0.4"/>
<ellipse cx="569" cy="366.8" rx="10" ry="1.5" fill="#7f7de8" opacity="0.7"/>
<line x1="602.5" y1="391" x2="562.5" y2="487" stroke="#e0523e" stroke-width="0.9" stroke-dasharray="1.6 1.6"/>
<polygon points="216.5,388.8 440,370.6 600,358.2 690,350.2 761,344.8 765,348.3 690,355.5 600,363 440,380 206,400 195,400.5 195,392" fill="#e1dfe0" opacity="0.93"/>
<polyline points="216.5,388.8 440,370.6 600,358.2 690,350.2 761,344.8" fill="none" stroke="#c6c4c5" stroke-width="0.7" />
<polygon points="759.5,246.6 762.5,247 765,348.3 761,344.8" fill="#f2f1f1" />
<polyline points="195,400.5 206,400 440,380 600,363 690,355.5 765,348.3 762.5,247 206,151" fill="none" stroke="#bdbbbc" stroke-width="0.8" />
<polygon points="196,158 203,152 217.5,154 217.5,398.5 206,400 196,400" fill="#ebe9ea" opacity="0.55"/>
<polyline points="217.8,176 217,388.8" fill="none" stroke="#c9c7c8" stroke-width="0.7" />
<polyline points="218,176 761,255.5" fill="none" stroke="#c2c0c1" stroke-width="0.7" />
</g>
<g id="d2">
<path d="M24,829 Q24,821.5 31,821.2 L151,814 L154,837 L159,926 L140,926 L140,848 L56,855.5 Q47.5,856.5 47.6,866 L56,947 L37.5,949 Z" fill="#dcd9cc" />
<polyline points="37.5,949 24,829" fill="none" stroke="#bbb8ab" stroke-width="0.7" />
<path d="M24,829 Q24,821.5 31,821.2 L151,814" fill="none" stroke="#b5b2a6" stroke-width="0.7"/>
<polygon points="140,848 158,846 159,926 140,920" fill="#e2dfd3" />
<polygon points="151,814 300,826 587,851.5 752,864 760,880 746,1092 735,1076 626,1047.5 388,986 140,918.8 140,919 158.5,925 154,837" fill="#d8d5c8" />
<polygon points="154,837 300,854 400,866 618,890.6 632,903 632,913 400,881.3 200,853.8 160,849" fill="#dedbcf" />
<polygon points="151,814 300,826 587,851.5 752,864 755,866 633.8,892 618,890.6 400,866 300,854 154,837 154,837" fill="#cbc8bb" />
<polygon points="24,822 151,814 154,837" fill="#d6d3c7" />
<polygon points="587,851.5 752,864 755,866 633.8,892 618,890.6 587,887" fill="#d2cfb8" />
<polygon points="560,849.2 587,851.5 587,887 560,884" fill="url(#g31)" />
<polyline points="24,822 154,837 300,854 400,866 618,890.6" fill="none" stroke="#aeab9f" stroke-width="0.6" />
<path d="M587,887.2 L618,890.6 Q631,891.5 632,905" fill="none" stroke="#b5b29c" stroke-width="0.7"/>
<polyline points="24,821.3 151,814 300,826 587,851.5 752,864" fill="none" stroke="#b3b0a4" stroke-width="0.7" />
<polyline points="151,814 154,837 159,926" fill="none" stroke="#c2bfb2" stroke-width="0.7" />
<polygon points="55,859 160,849 200,853.8 400,881.3 632,913 632,923.8 538.4,950 400,920 200,883.8 55,859" fill="#8c8b8f" />
<polygon points="55,859 200,883.8 400,920 538.4,950 538.4,960.3 400,928.3 200,890.6 55,863.8" fill="#efeff2" />
<polygon points="538.4,950 632,923.8 632,933.8 538.4,960.3" fill="#e3e3e7" />
<polyline points="55,859 200,883.8 400,920 538.4,950 632,923.8" fill="none" stroke="#a9a8ad" stroke-width="0.6" />
<path d="M641,1141 L735,1087 L740,948 Q740,937 729,939.5 L672,958.5 Q657,962 655,978 Z" fill="#c9c6ae" opacity="0.3"/>
<g clip-path="url(#cvclip)">
<polygon points="71.9,934.5 174.6,970.7 298,1014.2 457.7,1069.6 751.7,1167.5 860,1125.7 531.5,1033.5 361.2,986.6 233.4,951 129.3,922" fill="#8b8a8f" />
<polygon points="71.8,935 134,926.5 140,925.5 76,936.5" fill="#c6c4b2" />
<path d="M73.0,934.9 L92.3,941.7 L148.9,927.9 Q143.7,924.3 129.6,922.5 Z" fill="url(#g32)" />
<path d="M95.6,942.8 L115.6,949.9 L172.5,934.5 Q167.2,930.5 152.3,928.9 Z" fill="url(#g33)" />
<path d="M119.5,951.2 L140.2,958.5 L197.4,941.5 Q192.1,937.1 176.4,935.6 Z" fill="url(#g34)" />
<path d="M144.7,960.1 L166.2,967.7 L223.8,948.9 Q218.4,944.1 202.0,942.7 Z" fill="url(#g35)" />
<path d="M171.3,969.5 L193.6,977.3 L251.9,956.7 Q246.4,951.6 229.1,950.3 Z" fill="url(#g36)" />
<path d="M199.5,979.5 L222.6,987.6 L281.8,965.0 Q276.2,959.5 258.1,958.4 Z" fill="url(#g37)" />
<path d="M229.5,990.0 L253.3,998.4 L313.7,973.9 Q308.0,967.9 289.0,967.0 Z" fill="url(#g38)" />
<path d="M261.3,1001.2 L286.0,1009.9 L347.7,983.5 Q341.9,977.0 322.0,976.3 Z" fill="url(#g39)" />
<path d="M295.2,1013.2 L320.8,1022.2 L384.2,993.6 Q378.2,986.7 357.4,986.2 Z" fill="url(#g40)" />
<path d="M331.4,1025.9 L357.8,1035.2 L423.4,1004.5 Q417.2,997.1 395.4,996.8 Z" fill="url(#g41)" />
<path d="M370.2,1039.5 L397.4,1048.9 L465.5,1016.1 Q459.1,1008.3 436.5,1008.1 Z" fill="url(#g42)" />
<path d="M411.7,1053.8 L439.8,1063.4 L511.0,1028.7 Q504.3,1020.5 480.8,1020.4 Z" fill="url(#g43)" />
<path d="M456.3,1069.1 L485.3,1079.1 L560.3,1042.4 Q553.3,1033.7 528.9,1033.7 Z" fill="url(#g44)" />
<path d="M504.4,1085.6 L534.2,1095.7 L613.8,1057.2 Q606.5,1048.2 581.2,1048.1 Z" fill="url(#g45)" />
<path d="M556.4,1103.0 L587.0,1113.1 L672.2,1073.3 Q664.5,1064.2 638.3,1063.9 Z" fill="url(#g46)" />
<path d="M612.7,1121.6 L644.2,1132.0 L736.1,1091.3 Q728.0,1081.9 700.9,1081.2 Z" fill="url(#g47)" />
<polygon points="140,918.8 388,986 626,1047.5 735,1076 735,1090 700,1080 388,994 140,925" fill="#f1f1f4" />
<polyline points="140,918.8 388,986 626,1047.5 735,1076" fill="none" stroke="#8f8e93" stroke-width="1.6" />
<polygon points="70,933.8 360,1036 520,1091 620,1124 620,1130.5 520,1099.5 360,1040 70,935.3" fill="#85848a" />
<polygon points="70,935.3 360,1040 520,1099.5 620,1130.5 620,1168 520,1131 360,1066.8 43.8,950" fill="url(#g48)" />
<path d="M70,933.8 Q50,931 44,938 Q40.5,944 43.8,950 L60,956 Z" fill="#ededf0" />
<polygon points="43.8,950 360,1066.8 520,1131 620,1168 620,1173.6 520,1137 360,1072 37.5,949" fill="#d3d0bf" />
<polyline points="37.5,949 360,1072 520,1137 620,1173.6" fill="none" stroke="#b9b6a6" stroke-width="0.7" />
</g>
<polygon points="146.2,945.8 205,935 290,958.8 226,971" fill="url(#g49)" />
<line x1="157.96" y1="943.64" x2="238.8" y2="968.56" stroke="#81716a" stroke-width="0.6" opacity="0.7"/>
<line x1="169.72" y1="941.48" x2="251.6" y2="966.12" stroke="#5c4d46" stroke-width="0.6" opacity="0.7"/>
<line x1="181.48" y1="939.32" x2="264.4" y2="963.68" stroke="#81716a" stroke-width="0.6" opacity="0.7"/>
<line x1="193.24" y1="937.16" x2="277.2" y2="961.24" stroke="#5c4d46" stroke-width="0.6" opacity="0.7"/>
<polygon points="146.2,945.8 226,971 226,974.2 146.2,948" fill="#b59c86" />
<polygon points="226,971 290,958.8 290,962 226,974.2" fill="#c9b39b" />
<polygon points="362.8,1012.5 430,994.3 585.8,1037.7 521,1061.5" fill="url(#g50)" />
<line x1="376.24" y1="1008.86" x2="533.96" y2="1056.74" stroke="#81716a" stroke-width="0.6" opacity="0.7"/>
<line x1="389.68" y1="1005.22" x2="546.92" y2="1051.98" stroke="#5c4d46" stroke-width="0.6" opacity="0.7"/>
<line x1="403.12" y1="1001.58" x2="559.88" y2="1047.22" stroke="#81716a" stroke-width="0.6" opacity="0.7"/>
<line x1="416.56" y1="997.94" x2="572.84" y2="1042.46" stroke="#5c4d46" stroke-width="0.6" opacity="0.7"/>
<polygon points="362.8,1012.5 521,1061.5 521,1067 362.8,1016.4" fill="#b59c86" />
<polygon points="521,1061.5 585.8,1037.7 585.8,1043.2 521,1067" fill="#c9b39b" />
<rect x="401.5" y="915" width="7" height="3" fill="#dcdce0" stroke="#9a9aa0" stroke-width="0.4"/>
<rect x="479.5" y="930" width="7" height="3" fill="#dcdce0" stroke="#9a9aa0" stroke-width="0.4"/>
<rect x="496.5" y="933" width="7" height="3" fill="#dcdce0" stroke="#9a9aa0" stroke-width="0.4"/>
<rect x="566.5" y="918" width="7" height="3" fill="#dcdce0" stroke="#9a9aa0" stroke-width="0.4"/>
<polygon points="386,827.5 448,821.5 585.6,829 510,836.5" fill="#a1a0a4" stroke="#8e8e94" stroke-width="0.7" stroke-linejoin="round"/>
<path d="M442.4,816.6 L442.4,826 A22.5,3.2 0 0 0 487.4,826 L487.4,816.6 A22.5,2.2 0 0 0 442.4,816.6 Z" fill="url(#g51)" stroke="#6a6ad0" stroke-width="0.5"/>
<ellipse cx="464.9" cy="816.6" rx="22.2" ry="2.2" fill="#8f8fe0" stroke="#3e3e86" stroke-width="0.9"/>
<ellipse cx="464.9" cy="816.8" rx="13.5" ry="1.21" fill="#6f6fc4"/>
<path d="M483,818.6 L483,828.6 A23.5,3.5 0 0 0 530,828.6 L530,818.6 A23.5,2.5 0 0 0 483,818.6 Z" fill="url(#g52)" stroke="#6a6ad0" stroke-width="0.5"/>
<ellipse cx="506.5" cy="818.6" rx="23.2" ry="2.5" fill="#8f8fe0" stroke="#3e3e86" stroke-width="0.9"/>
<ellipse cx="506.5" cy="818.8" rx="14.1" ry="1.375" fill="#6f6fc4"/>
<polygon points="386,827.5 510,836.5 510.6,932 388,912" fill="#ededf0" stroke="#8e8e94" stroke-width="0.7" stroke-linejoin="round"/>
<polygon points="510,836.5 585.6,829 584,915 510.6,932" fill="#dfdfe4" stroke="#8e8e94" stroke-width="0.7" stroke-linejoin="round"/>
<line x1="465.98" y1="833.305" x2="467.077" y2="924.9" stroke="#8e8e94" stroke-width="0.7" />
<polygon points="389.8,832 462.3,837.6 462.6,863.2 390.4,855.8" fill="none" stroke="#a9a9af" stroke-width="0.5"/>
<polygon points="390.5,860 462.7,867.7 463.3,919.7 391.6,908.4" fill="none" stroke="#a9a9af" stroke-width="0.5"/>
<polygon points="469.8,838.2 506.3,841 506.5,867.6 470,863.9" fill="none" stroke="#a9a9af" stroke-width="0.5"/>
<polygon points="470.1,868.5 506.5,872.4 506.9,926.6 470.7,920.9" fill="none" stroke="#a9a9af" stroke-width="0.5"/>
<polygon points="513,841 582.5,833.6 582.1,857.8 513.2,867.6" fill="none" stroke="#a9a9af" stroke-width="0.5"/>
<polygon points="513.2,872.3 582,862.1 581.1,911.4 513.5,926.6" fill="none" stroke="#a9a9af" stroke-width="0.5"/>
<rect x="393.6" y="836.6" width="7.4" height="3.6" rx="1" fill="#fdfdfd" stroke="#7d7d84" stroke-width="0.5"/>
<rect x="403.8" y="837.4" width="7.4" height="3.6" rx="1" fill="#fdfdfd" stroke="#7d7d84" stroke-width="0.5"/>
<rect x="413.9" y="838.2" width="7.4" height="3.6" rx="1" fill="#fdfdfd" stroke="#7d7d84" stroke-width="0.5"/>
<rect x="424.1" y="839.0" width="7.4" height="3.6" rx="1" fill="#fdfdfd" stroke="#7d7d84" stroke-width="0.5"/>
<rect x="434.3" y="839.9" width="7.4" height="3.6" rx="1" fill="#d0d0d8" stroke="#7d7d84" stroke-width="0.5"/>
<rect x="444.4" y="840.7" width="7.4" height="3.6" rx="1" fill="#8d8da6" stroke="#7d7d84" stroke-width="0.5"/>
<rect x="393.8" y="842.9" width="7.4" height="3.6" rx="1" fill="#fdfdfd" stroke="#7d7d84" stroke-width="0.5"/>
<rect x="403.9" y="843.8" width="7.4" height="3.6" rx="1" fill="#fdfdfd" stroke="#7d7d84" stroke-width="0.5"/>
<rect x="414.1" y="844.7" width="7.4" height="3.6" rx="1" fill="#fdfdfd" stroke="#7d7d84" stroke-width="0.5"/>
<rect x="424.2" y="845.6" width="7.4" height="3.6" rx="1" fill="#fdfdfd" stroke="#7d7d84" stroke-width="0.5"/>
<rect x="434.4" y="846.5" width="7.4" height="3.6" rx="1" fill="#8d8da6" stroke="#7d7d84" stroke-width="0.5"/>
<rect x="444.5" y="847.4" width="7.4" height="3.6" rx="1" fill="#d0d0d8" stroke="#7d7d84" stroke-width="0.5"/>
<rect x="393.9" y="849.3" width="7.4" height="3.6" rx="1" fill="#fdfdfd" stroke="#7d7d84" stroke-width="0.5"/>
<rect x="404.1" y="850.3" width="7.4" height="3.6" rx="1" fill="#fdfdfd" stroke="#7d7d84" stroke-width="0.5"/>
<rect x="414.2" y="851.3" width="7.4" height="3.6" rx="1" fill="#fdfdfd" stroke="#7d7d84" stroke-width="0.5"/>
<rect x="424.3" y="852.2" width="7.4" height="3.6" rx="1" fill="#fdfdfd" stroke="#7d7d84" stroke-width="0.5"/>
<rect x="434.5" y="853.2" width="7.4" height="3.6" rx="1" fill="#d0d0d8" stroke="#7d7d84" stroke-width="0.5"/>
<rect x="444.6" y="854.1" width="7.4" height="3.6" rx="1" fill="#8d8da6" stroke="#7d7d84" stroke-width="0.5"/>
<circle cx="398.7" cy="871.1" r="3.9" fill="#f4f4f6" stroke="#7d7d84" stroke-width="0.6"/>
<circle cx="408.6" cy="872.3" r="3.9" fill="#f4f4f6" stroke="#7d7d84" stroke-width="0.6"/>
<circle cx="399.0" cy="884.4" r="3.9" fill="#f4f4f6" stroke="#7d7d84" stroke-width="0.6"/>
<circle cx="408.8" cy="885.7" r="3.9" fill="#f4f4f6" stroke="#7d7d84" stroke-width="0.6"/>
<rect x="472.9" y="843.0" width="7.4" height="3.2" rx="0.8" fill="#fdfdfd" stroke="#7d7d84" stroke-width="0.4"/>
<rect x="482.6" y="843.8" width="7.4" height="3.2" rx="0.8" fill="#fdfdfd" stroke="#7d7d84" stroke-width="0.4"/>
<rect x="492.2" y="844.6" width="7.4" height="3.2" rx="0.8" fill="#fdfdfd" stroke="#7d7d84" stroke-width="0.4"/>
<rect x="473.0" y="848.4" width="7.4" height="3.2" rx="0.8" fill="#5d62b8" stroke="#7d7d84" stroke-width="0.4"/>
<rect x="482.6" y="849.2" width="7.4" height="3.2" rx="0.8" fill="#5d62b8" stroke="#7d7d84" stroke-width="0.4"/>
<rect x="492.3" y="850.0" width="7.4" height="3.2" rx="0.8" fill="#5d62b8" stroke="#7d7d84" stroke-width="0.4"/>
<rect x="473.0" y="853.7" width="7.4" height="3.2" rx="0.8" fill="#3c4093" stroke="#7d7d84" stroke-width="0.4"/>
<rect x="482.7" y="854.6" width="7.4" height="3.2" rx="0.8" fill="#3c4093" stroke="#7d7d84" stroke-width="0.4"/>
<rect x="492.3" y="855.5" width="7.4" height="3.2" rx="0.8" fill="#3c4093" stroke="#7d7d84" stroke-width="0.4"/>
<rect x="473.1" y="859.1" width="7.4" height="3.2" rx="0.8" fill="#c9c9d2" stroke="#7d7d84" stroke-width="0.4"/>
<rect x="482.7" y="860.0" width="7.4" height="3.2" rx="0.8" fill="#c9c9d2" stroke="#7d7d84" stroke-width="0.4"/>
<rect x="492.4" y="860.9" width="7.4" height="3.2" rx="0.8" fill="#b9b99f" stroke="#7d7d84" stroke-width="0.4"/>
<rect x="475.2" y="885.2" width="12" height="4.6" rx="1.2" fill="#f4f4f6" stroke="#7d7d84" stroke-width="0.6"/>
<rect x="516.8" y="846.2" width="4.5" height="3.6" rx="1" fill="#b9b9a6" stroke="#7d7d84" stroke-width="0.45"/>
<rect x="523.3" y="845.5" width="4.5" height="3.6" rx="1" fill="#fdfdfd" stroke="#7d7d84" stroke-width="0.45"/>
<rect x="529.7" y="844.8" width="4.5" height="3.6" rx="1" fill="#fdfdfd" stroke="#7d7d84" stroke-width="0.45"/>
<rect x="536.1" y="844.1" width="4.5" height="3.6" rx="1" fill="#b9b9a6" stroke="#7d7d84" stroke-width="0.45"/>
<rect x="542.5" y="843.3" width="4.5" height="3.6" rx="1" fill="#fdfdfd" stroke="#7d7d84" stroke-width="0.45"/>
<rect x="516.9" y="853.3" width="4.5" height="3.6" rx="1" fill="#fdfdfd" stroke="#7d7d84" stroke-width="0.45"/>
<rect x="523.3" y="852.5" width="4.5" height="3.6" rx="1" fill="#b9b9a6" stroke="#7d7d84" stroke-width="0.45"/>
<rect x="529.7" y="851.8" width="4.5" height="3.6" rx="1" fill="#fdfdfd" stroke="#7d7d84" stroke-width="0.45"/>
<rect x="536.1" y="851.0" width="4.5" height="3.6" rx="1" fill="#fdfdfd" stroke="#7d7d84" stroke-width="0.45"/>
<rect x="542.4" y="850.2" width="4.5" height="3.6" rx="1" fill="#b9b9a6" stroke="#7d7d84" stroke-width="0.45"/>
<rect x="516.9" y="860.4" width="4.5" height="3.6" rx="1" fill="#fdfdfd" stroke="#7d7d84" stroke-width="0.45"/>
<rect x="523.3" y="859.6" width="4.5" height="3.6" rx="1" fill="#fdfdfd" stroke="#7d7d84" stroke-width="0.45"/>
<rect x="529.7" y="858.7" width="4.5" height="3.6" rx="1" fill="#b9b9a6" stroke="#7d7d84" stroke-width="0.45"/>
<rect x="536.0" y="857.9" width="4.5" height="3.6" rx="1" fill="#fdfdfd" stroke="#7d7d84" stroke-width="0.45"/>
<rect x="542.4" y="857.0" width="4.5" height="3.6" rx="1" fill="#fdfdfd" stroke="#7d7d84" stroke-width="0.45"/>
<rect x="516.9" y="867.5" width="4.5" height="3.6" rx="1" fill="#b9b9a6" stroke="#7d7d84" stroke-width="0.45"/>
<rect x="523.3" y="866.6" width="4.5" height="3.6" rx="1" fill="#fdfdfd" stroke="#7d7d84" stroke-width="0.45"/>
<rect x="529.7" y="865.7" width="4.5" height="3.6" rx="1" fill="#fdfdfd" stroke="#7d7d84" stroke-width="0.45"/>
<rect x="536.0" y="864.8" width="4.5" height="3.6" rx="1" fill="#b9b9a6" stroke="#7d7d84" stroke-width="0.45"/>
<rect x="542.4" y="863.9" width="4.5" height="3.6" rx="1" fill="#fdfdfd" stroke="#7d7d84" stroke-width="0.45"/>
<ellipse cx="535.3" cy="899.1" rx="13.5" ry="16.5" fill="#6c6ce0" stroke="#5a5ac0" stroke-width="0.6"/>
<ellipse cx="537.5" cy="898.5" rx="13.5" ry="16.5" fill="#8484f0" stroke="#5f5fc8" stroke-width="0.7"/>
<ellipse cx="537.5" cy="898.5" rx="10.8" ry="13.2" fill="#6a6ad8"/>
<path d="M539.9,898.5 Q544.1,900.1 546.0,904.9" fill="none" stroke="#f5f5ff" stroke-width="1.5" stroke-linecap="round"/>
<path d="M539.4,900.4 Q541.7,905.0 540.7,910.1" fill="none" stroke="#f5f5ff" stroke-width="1.5" stroke-linecap="round"/>
<path d="M537.9,901.4 Q537.3,906.7 533.8,909.9" fill="none" stroke="#f5f5ff" stroke-width="1.5" stroke-linecap="round"/>
<path d="M536.3,901.1 Q533.0,904.7 528.7,904.3" fill="none" stroke="#f5f5ff" stroke-width="1.5" stroke-linecap="round"/>
<path d="M535.2,899.5 Q530.8,899.7 527.7,896.1" fill="none" stroke="#f5f5ff" stroke-width="1.5" stroke-linecap="round"/>
<path d="M535.2,897.5 Q531.7,894.2 531.3,888.9" fill="none" stroke="#f5f5ff" stroke-width="1.5" stroke-linecap="round"/>
<path d="M536.3,895.9 Q535.4,890.7 537.8,886.3" fill="none" stroke="#f5f5ff" stroke-width="1.5" stroke-linecap="round"/>
<path d="M537.9,895.6 Q540.0,890.8 544.1,889.4" fill="none" stroke="#f5f5ff" stroke-width="1.5" stroke-linecap="round"/>
<path d="M539.4,896.6 Q543.4,894.6 547.4,896.7" fill="none" stroke="#f5f5ff" stroke-width="1.5" stroke-linecap="round"/>
<ellipse cx="537.5" cy="898.5" rx="2.16" ry="2.64" fill="#5353b8"/>
<ellipse cx="563.8" cy="893.1" rx="12.3" ry="15.5" fill="#6c6ce0" stroke="#5a5ac0" stroke-width="0.6"/>
<ellipse cx="566" cy="892.5" rx="12.3" ry="15.5" fill="#8484f0" stroke="#5f5fc8" stroke-width="0.7"/>
<ellipse cx="566" cy="892.5" rx="9.84" ry="12.4" fill="#6a6ad8"/>
<path d="M568.2,892.5 Q572.0,894.0 573.8,898.5" fill="none" stroke="#f5f5ff" stroke-width="1.5" stroke-linecap="round"/>
<path d="M567.7,894.3 Q569.8,898.6 568.9,903.4" fill="none" stroke="#f5f5ff" stroke-width="1.5" stroke-linecap="round"/>
<path d="M566.4,895.2 Q565.8,900.2 562.7,903.2" fill="none" stroke="#f5f5ff" stroke-width="1.5" stroke-linecap="round"/>
<path d="M564.9,894.9 Q561.9,898.3 558.0,898.0" fill="none" stroke="#f5f5ff" stroke-width="1.5" stroke-linecap="round"/>
<path d="M563.9,893.5 Q559.9,893.7 557.1,890.2" fill="none" stroke="#f5f5ff" stroke-width="1.5" stroke-linecap="round"/>
<path d="M563.9,891.5 Q560.8,888.5 560.3,883.5" fill="none" stroke="#f5f5ff" stroke-width="1.5" stroke-linecap="round"/>
<path d="M564.9,890.1 Q564.0,885.2 566.2,881.0" fill="none" stroke="#f5f5ff" stroke-width="1.5" stroke-linecap="round"/>
<path d="M566.4,889.8 Q568.2,885.3 572.0,883.9" fill="none" stroke="#f5f5ff" stroke-width="1.5" stroke-linecap="round"/>
<path d="M567.7,890.7 Q571.4,888.8 575.0,890.8" fill="none" stroke="#f5f5ff" stroke-width="1.5" stroke-linecap="round"/>
<ellipse cx="566" cy="892.5" rx="1.968" ry="2.48" fill="#5353b8"/>
<polygon points="386,859.5 510,872.5 586,865 586,880.5 510,880.5 386,867" fill="#bdbaa6" opacity="0.4"/>
<polygon points="386,867 510,880.5 586,880.5 584,915 510.6,932 388,912" fill="#d8d4b4" opacity="0.2"/>
<line x1="617" y1="784" x2="574.7" y2="838.4" stroke="#77777b" stroke-width="0.8" stroke-dasharray="1.6 1.6"/>
<polygon points="101.7,853 124.1,853 124.1,885 112.9,915.5 101.7,885" fill="url(#g53)" />
<polygon points="176,862 199,862 199,902 187.5,932.5 176,902" fill="url(#g54)" />
<polygon points="260.5,876 283.5,876 283.5,924 272,954.5 260.5,924" fill="url(#g55)" />
<polygon points="357.5,912 380.5,912 380.5,945.5 369,975.8 357.5,945.5" fill="url(#g56)" />
<polygon points="466.8,938 494.2,938 494.2,971.5 480.5,1004.5 466.8,971.5" fill="url(#g57)" />
<polygon points="169.5,839.5 191,834.5 252,841.2 247,855.3 186,848" fill="url(#g58)" />
<polygon points="283.8,858 307.5,850.8 378,862.8 373,881.5 302.5,872.5" fill="url(#g59)" />
<polygon points="609.6,916 623,942 623,1052 596,1052 596,942" fill="url(#g60)" />
<path d="M632,903 Q633,892 641,890.3 L750,865.5 Q758.5,864.5 759.5,874 L747,1092 L620,1173.6 Z M641,1141 L735,1087 L740,948 Q740,937 729,939.5 L672,958.5 Q657,962 655,978 Z" fill="#e9e6ce" fill-rule="evenodd" opacity="0.82"/>
<path d="M641,1141 L655,978 Q657,962 672,958.5 L729,939.5 Q740,937 740,948 L735,1087" fill="none" stroke="#bab79f" stroke-width="0.7"/>
<path d="M620,1173.6 L632,903 Q633,892 641,890.3 L750,865.5 Q758.5,864.5 759.5,874 L747,1092 Z" fill="none" stroke="#c4c1a9" stroke-width="0.8"/>
<polygon points="632,903 638,898 626.5,1170 620,1173.6" fill="#f3f1e2" opacity="0.6"/>
<polygon points="632,916.5 652.5,916.5 652.5,927.5 632,933.8" fill="#e2dfca" stroke="#c9c6b0" stroke-width="0.5"/>
</g>
<text x="241.8" y="68.8" font-family="&quot;Liberation Sans&quot;, sans-serif" font-size="28.6" fill="#454545" textLength="332.4" lengthAdjust="spacing">HANGING LINE DRYING</text>
<text x="134.7" y="638.2" font-family="&quot;Liberation Sans&quot;, sans-serif" font-size="28.4" fill="#454545" textLength="478.8" lengthAdjust="spacing">PAINT LEVELING TUNNEL DRYING</text>
<text x="401.8" y="114.5" text-anchor="middle" font-family="&quot;Liberation Sans&quot;, &quot;Noto Sans CJK SC&quot;, sans-serif" font-size="35" font-weight="bold" fill="#444">吊线干燥房</text>
<text x="396.8" y="683.8" text-anchor="middle" font-family="&quot;Liberation Sans&quot;, &quot;Noto Sans CJK SC&quot;, sans-serif" font-size="35" font-weight="bold" fill="#444">流平干燥隧道</text>
<text x="503.7" y="510" text-anchor="middle" font-family="&quot;Liberation Sans&quot;, &quot;Noto Sans CJK SC&quot;, sans-serif" font-size="24" fill="#4c4c4c">卧式平衡养生机</text>
<text x="613.2" y="778.3" text-anchor="middle" font-family="&quot;Liberation Sans&quot;, &quot;Noto Sans CJK SC&quot;, sans-serif" font-size="24" fill="#4c4c4c">卧式平衡养生机</text>
<rect x="384" y="130" width="34" height="8" fill="#c9a227"/>
<rect x="384" y="700" width="34" height="8" fill="#c9a227"/>
</svg>
<h2 class="t" style="left:242px;top:44px;font-size:28px;letter-spacing:1px">HANGING LINE DRYING</h2>
<h1 class="t" style="left:316px;top:84px;font-size:35px">吊线干燥房</h1>
<p class="t" style="left:420px;top:488px;font-size:24px">卧式平衡养生机</p>
<h2 class="t" style="left:135px;top:614px;font-size:28px;letter-spacing:1px">PAINT LEVELING TUNNEL DRYING</h2>
<h1 class="t" style="left:292px;top:652px;font-size:35px">流平干燥隧道</h1>
<p class="t" style="left:529px;top:756px;font-size:24px">卧式平衡养生机</p>
</body></html>
